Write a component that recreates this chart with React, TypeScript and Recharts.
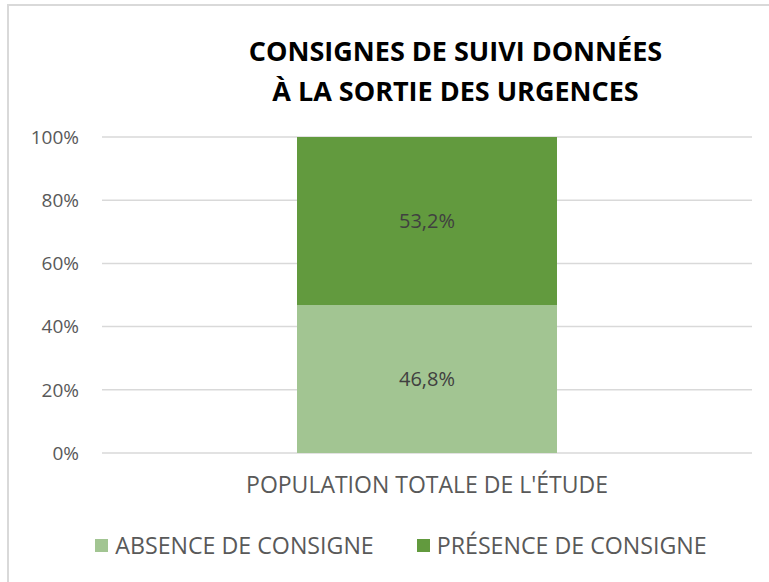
import { Bar, BarChart, CartesianGrid, LabelList, Legend, XAxis, YAxis } from 'recharts';

const categories = ["POPULATION TOTALE DE L'ÉTUDE"];
const absence = [46.8];
const presence = [53.2];
const yTicks = [0, 20, 40, 60, 80, 100];
const seriesNames = ['ABSENCE DE CONSIGNE', 'PRÉSENCE DE CONSIGNE'];
const titleLines = ['CONSIGNES DE SUIVI DONNÉES', 'À LA SORTIE DES URGENCES'];

const LIGHT = '#a2c592';
const DARK = '#629a3e';
const TEXT = '#595959';
const FONT = '"Open Sans", "Noto Sans", sans-serif';

const data = categories.map((c, i) => ({ cat: c, absence: absence[i], presence: presence[i] }));

const fmtPct = (v: number) => `${v.toFixed(1).replace('.', ',')}%`;

function LegendRow() {
  const items = [
    { name: seriesNames[0], color: LIGHT },
    { name: seriesNames[1], color: DARK },
  ];
  return (
    <div style={{ display: 'flex', justifyContent: 'center', gap: 43, height: 44, alignItems: 'center', paddingLeft: 50 }}>
      {items.map((it) => (
        <div key={it.name} style={{ display: 'flex', alignItems: 'center', gap: 7 }}>
          <span style={{ width: 13, height: 13, background: it.color, display: 'inline-block' }} />
          <span style={{ fontFamily: FONT, fontSize: 23.2, color: TEXT, whiteSpace: 'nowrap' }}>{it.name}</span>
        </div>
      ))}
    </div>
  );
}

export default function App() {
  return (
    <div style={{ position: 'absolute', left: 0, top: 0, width: 769, height: 582, background: '#fff', overflow: 'hidden' }}>
      <div
        style={{
          position: 'absolute', left: 7, top: 4, width: 780, height: 600,
          borderTop: '2px solid #d9d9d9', borderLeft: '2px solid #d9d9d9', boxSizing: 'border-box',
        }}
      />
      <div
        style={{
          position: 'absolute', left: 0, top: 31, width: 769, paddingLeft: 142, boxSizing: 'border-box',
          textAlign: 'center', fontFamily: FONT,
          fontWeight: 700, fontSize: 27, lineHeight: '40px', color: '#000',
        }}
      >
        {titleLines.map((l) => (
          <div key={l}>{l}</div>
        ))}
      </div>
      <BarChart
        width={769}
        height={582}
        data={data}
        margin={{ top: 137, right: 17, bottom: 15, left: 0 }}
        barCategoryGap="30%"
        style={{ position: 'absolute', left: 0, top: 0 }}
      >
        <CartesianGrid vertical={false} stroke="#d9d9d9" strokeWidth={1.5} />
        <XAxis
          dataKey="cat"
          axisLine={false}
          tickLine={false}
          tickSize={0}
          tickMargin={24}
          height={70}
          tick={{ fill: TEXT, fontSize: 23, fontFamily: FONT }}
        />
        <YAxis
          domain={[0, 100]}
          ticks={yTicks}
          tickFormatter={(v) => `${v}%`}
          axisLine={false}
          tickLine={false}
          tickSize={0}
          tickMargin={23}
          width={102}
          tick={{ fill: TEXT, fontSize: 19, fontFamily: FONT }}
        />
        <Legend verticalAlign="bottom" content={<LegendRow />} />
        <Bar dataKey="absence" name={seriesNames[0]} stackId="s" fill={LIGHT} isAnimationActive={false}>
          <LabelList dataKey="absence" position="center" formatter={(v: any) => fmtPct(Number(v))} fill="#404040" fontSize={20} fontFamily={FONT} />
        </Bar>
        <Bar dataKey="presence" name={seriesNames[1]} stackId="s" fill={DARK} isAnimationActive={false}>
          <LabelList dataKey="presence" position="center" formatter={(v: any) => fmtPct(Number(v))} fill="#404040" fontSize={20} fontFamily={FONT} />
        </Bar>
      </BarChart>
    </div>
  );
}
